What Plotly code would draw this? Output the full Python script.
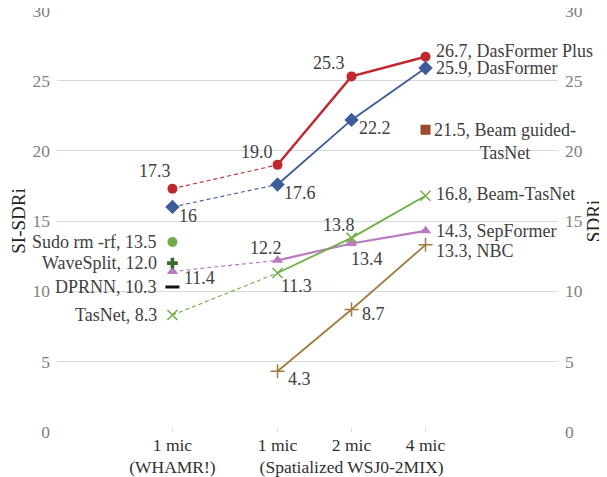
import plotly.graph_objects as go

# ---------------- data ----------------
spatial_mics = ["1 mic", "2 mic", "4 mic"]
whamr_cat = "1 mic (WHAMR!)"

dasformer_plus_whamr = 17.3
dasformer_plus = [19.0, 25.3, 26.7]
dasformer_whamr = 16
dasformer = [17.6, 22.2, 25.9]
sepformer_whamr = 11.4
sepformer = [12.2, 13.4, 14.3]
tasnet_whamr = 8.3
beam_tasnet = [11.3, 13.8, 16.8]
nbc = [4.3, 8.7, 13.3]
beam_guided_tasnet = 21.5          # 4 mic only
whamr_only_names = ["Sudo rm -rf", "WaveSplit", "DPRNN"]
whamr_only_values = [13.5, 12.0, 10.3]

y_ticks = [0, 5, 10, 15, 20, 25, 30]

# ---------------- layout positions / styles ----------------
xpos = {whamr_cat: -0.42, "1 mic": 1, "2 mic": 2, "4 mic": 3}
tick_text = {whamr_cat: "1 mic<br>(WHAMR!)", "1 mic": "1 mic",
             "2 mic": "2 mic<br>(Spatialized WSJ0-2MIX)", "4 mic": "4 mic"}
xs = [xpos[m] for m in spatial_mics]
xw = xpos[whamr_cat]

FONT = "Liberation Serif"
LBL = dict(family=FONT, size=18, color="#404040")

# the page body adds an 8px offset; compensate in the margins
OFF = 8

fig = go.Figure()


def fmt(v):
    return f"{v:.1f}"


def label(x, y, text, dx, dy, anchor="center"):
    """dx, dy: label offset in px from the marker (dy positive = downwards)."""
    fig.add_annotation(x=x, y=y, text=text, showarrow=False, font=LBL,
                       xanchor=anchor, yanchor="middle", xshift=dx, yshift=-dy)


def series(name, whamr_val, vals, color, symbol, size, lw, whamr_label, offsets,
           marker_line=None):
    if whamr_val is not None:
        fig.add_trace(go.Scatter(x=[xw, xs[0]], y=[whamr_val, vals[0]], mode="lines",
                                 line=dict(color=color, width=1.1, dash="4px,3px"),
                                 hoverinfo="skip"))
    fig.add_trace(go.Scatter(x=xs, y=vals, mode="lines",
                             line=dict(color=color, width=lw), hoverinfo="skip"))
    px = ([xw] if whamr_val is not None else []) + xs
    py = ([whamr_val] if whamr_val is not None else []) + vals
    texts = ([whamr_label] if whamr_val is not None else []) + \
        [fmt(v) for v in vals[:-1]] + [f"{fmt(vals[-1])}, {name}"]
    mk = dict(color=color, symbol=symbol, size=size)
    if marker_line:
        mk["line"] = marker_line
    fig.add_trace(go.Scatter(x=px, y=py, mode="markers", marker=mk, name=name,
                             cliponaxis=False))
    for xx, yy, t, off in zip(px, py, texts, offsets):
        label(xx, yy, t, *off)


RED = "#C0282E"
BLUE = "#3C5C9C"
PURPLE = "#B77BBE"
GREEN = "#70AD47"
BROWN = "#9E7C3E"

END = 8  # gap between the last marker and its series label

series("DasFormer Plus", dasformer_plus_whamr, dasformer_plus, RED, "circle", 10, 2.4,
       fmt(dasformer_plus_whamr),
       [(-17, -18), (-21, -13), (-23, -13), (END, -6, "left")])
series("DasFormer", dasformer_whamr, dasformer, BLUE, "diamond", 11, 1.8,
       str(dasformer_whamr),
       [(16, 9), (22, 8), (23, 8), (END, 0, "left")])
series("SepFormer", sepformer_whamr, sepformer, PURPLE, "triangle-up", 10, 2.2,
       fmt(sepformer_whamr),
       [(10, 6, "left"), (-12, -12), (15, 16), (END, 0, "left")])
series("Beam-TasNet", tasnet_whamr, beam_tasnet, GREEN, "x-thin-open", 10, 1.8,
       f"TasNet, {fmt(tasnet_whamr)}",
       [(-13, 0, "right"), (19, 13), (-13, -13), (END, -2, "left")],
       marker_line=dict(color=GREEN, width=1.5))
series("NBC", None, nbc, BROWN, "cross-thin-open", 10, 1.8, None,
       [(8, 8, "left"), (8, 5, "left"), (END, 6, "left")],
       marker_line=dict(color=BROWN, width=1.5))

# WHAMR-only methods
whamr_colors = [GREEN, "#3E6B2C", "#111111"]
whamr_symbols = ["circle", "cross", "line-ew-open"]
for n, v, c, s in zip(whamr_only_names, whamr_only_values, whamr_colors, whamr_symbols):
    fig.add_trace(go.Scatter(x=[xw], y=[v], mode="markers",
                             marker=dict(color=c, symbol=s, size=10 if s != "cross" else 9,
                                         line=dict(color=c, width=3 if s == "line-ew-open" else 0)),
                             cliponaxis=False))
    label(xw, v, f"{n}, {fmt(v)}", -13, 0, "right")

# Beam guided-TasNet (4 mic only)
fig.add_trace(go.Scatter(x=[xpos["4 mic"]], y=[beam_guided_tasnet], mode="markers",
                         marker=dict(color="#9C4A2B", symbol="square", size=10)))
fig.add_annotation(x=xpos["4 mic"], y=beam_guided_tasnet,
                   text=f"{fmt(beam_guided_tasnet)}, Beam guided-<br>TasNet",
                   xanchor="left", yanchor="top", xshift=6, yshift=12, align="center",
                   showarrow=False, font=LBL)

# invisible trace for right axis
fig.add_trace(go.Scatter(x=[xw], y=[0], yaxis="y2", mode="markers",
                         marker=dict(opacity=0), hoverinfo="skip"))

# white gap separating the two groups
fig.add_shape(type="rect", xref="x", yref="paper", x0=0.28, x1=0.425, y0=-0.01, y1=1.01,
              fillcolor="white", line=dict(width=0), layer="between")

cats = [whamr_cat] + spatial_mics
yax = dict(range=[-0.03, 30.03], tickvals=y_ticks, showgrid=True, gridcolor="#D9D9D9",
           gridwidth=1.3, zeroline=False, showline=False, ticks="",
           tickfont=dict(family=FONT, size=17.5, color="#808080"), ticklabelstandoff=6,
           ticklabeloverflow="allow", fixedrange=True, automargin=False)
fig.update_layout(
    width=607, height=477,
    margin=dict(l=57 - OFF, r=49 + OFF, t=10 - OFF, b=45 + OFF),
    paper_bgcolor="white", plot_bgcolor="white",
    showlegend=False,
    xaxis=dict(range=[-1.98, 4.79], tickvals=[xpos[c] for c in cats],
               ticktext=[tick_text[c] for c in cats], showgrid=False, zeroline=False,
               showline=False, ticks="inside", ticklen=4, tickcolor="#D9D9D9",
               tickangle=0, automargin=False, ticklabeloverflow="allow",
               tickfont=dict(family=FONT, size=17.5, color="#303030")),
    yaxis=dict(**yax, title=dict(text="SI-SDRi", standoff=6,
                                 font=dict(family=FONT, size=19, color="#222222"))),
    yaxis2=dict(**{**yax, "showgrid": False}, overlaying="y", side="right",
                title=dict(text="SDRi", standoff=3,
                           font=dict(family=FONT, size=19, color="#222222"))),
)

fig.write_html("out.html")
